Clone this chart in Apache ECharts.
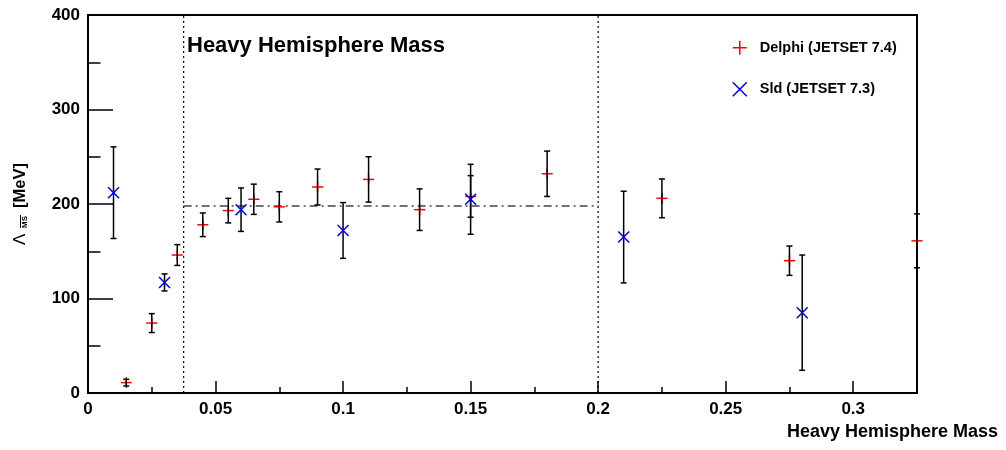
<!DOCTYPE html>
<html>
<head>
<meta charset="utf-8">
<script src="https://cdn.jsdelivr.net/npm/echarts@6/dist/echarts.min.js"></script>
<style>html,body{margin:0;padding:0;background:#fff}#c{width:1006px;height:450px}</style>
</head>
<body>
<div id="c"></div>
<script>
// Delphi (JETSET 7.4)
const delphiX = [0.015, 0.025, 0.035, 0.045, 0.055, 0.065, 0.075, 0.09, 0.11, 0.13, 0.15, 0.18, 0.225, 0.275, 0.325];
const delphiY = [11, 74, 146, 178, 193, 205, 197, 218, 226, 194, 208, 232, 206, 140, 161];
const delphiErr = [3.5, 10, 11, 12.5, 13, 16, 16, 19, 24, 22, 22, 24, 20.5, 15.5, 28.5];
// Sld (JETSET 7.3)
const sldX = [0.01, 0.03, 0.06, 0.1, 0.15, 0.21, 0.28];
const sldY = [212, 117, 194, 172, 205, 165, 85];
const sldErr = [48.5, 9, 23, 29.5, 37, 48.5, 61];
// reference lines
const fitLevel = 198;
const fitRange = [0.0375, 0.2];
const cutLines = [0.0375, 0.2];
// ticks
const xMajorTicks = [0, 0.05, 0.1, 0.15, 0.2, 0.25, 0.3];
const xMinorTicks = [0.025, 0.075, 0.125, 0.175, 0.225, 0.275];

const FONT = 'Liberation Sans, Arial, sans-serif';

function toData(xs, ys, es) { return xs.map((x, i) => [x, ys[i], es[i]]); }

function makeRender(kind) {
  return function (params, api) {
    const x = api.value(0), y = api.value(1), e = api.value(2);
    const p = api.coord([x, y]);
    const t = api.coord([x, y + e]);
    const b = api.coord([x, y - e]);
    const cap = 3, m = 5.5;
    const barStyle = { stroke: '#000', lineWidth: 1.5 };
    const children = [];
    if (kind === 'plus') {
      const st = { stroke: '#ff0000', lineWidth: 1.5 };
      children.push({ type: 'line', shape: { x1: p[0] - m, y1: p[1], x2: p[0] + m, y2: p[1] }, style: st });
      children.push({ type: 'line', shape: { x1: p[0], y1: p[1] - m, x2: p[0], y2: p[1] + m }, style: st });
    }
    children.push({ type: 'line', shape: { x1: t[0], y1: t[1], x2: b[0], y2: b[1] }, style: barStyle });
    children.push({ type: 'line', shape: { x1: t[0] - cap, y1: t[1], x2: t[0] + cap, y2: t[1] }, style: barStyle });
    children.push({ type: 'line', shape: { x1: b[0] - cap, y1: b[1], x2: b[0] + cap, y2: b[1] }, style: barStyle });
    if (kind === 'cross') {
      const st = { stroke: '#0000ff', lineWidth: 1.5 };
      children.push({ type: 'line', shape: { x1: p[0] - m, y1: p[1] - m, x2: p[0] + m, y2: p[1] + m }, style: st });
      children.push({ type: 'line', shape: { x1: p[0] - m, y1: p[1] + m, x2: p[0] + m, y2: p[1] - m }, style: st });
    }
    return { type: 'group', children };
  };
}

const chart = echarts.init(document.getElementById('c'), null, { renderer: 'canvas' });
chart.setOption({
  animation: false,
  backgroundColor: '#fff',
  textStyle: { fontFamily: FONT },
  title: {
    text: 'Heavy Hemisphere Mass',
    left: 182, top: 30,
    textStyle: { fontFamily: FONT, fontWeight: 'bold', fontSize: 22, color: '#000' }
  },
  graphic: [{
    type: 'group', x: 20, y: 245, rotation: Math.PI / 2, silent: true,
    children: [
      { type: 'text', x: 0, y: 0, style: { text: 'Λ', font: '17px ' + FONT, fill: '#000', verticalAlign: 'middle', align: 'left' } },
      { type: 'text', x: 17, y: 4.5, style: { text: 'MS', font: 'bold 8px ' + FONT, fill: '#000', verticalAlign: 'middle', align: 'left' } },
      { type: 'line', shape: { x1: 17, y1: 0.5, x2: 30, y2: 0.5 }, style: { stroke: '#000', lineWidth: 1 } },
      { type: 'text', x: 37, y: 0, style: { text: '[MeV]', font: 'bold 16.5px ' + FONT, fill: '#000', verticalAlign: 'middle', align: 'left' } }
    ]
  }],
  grid: { left: 88, right: 89, top: 15, bottom: 57, show: true, borderColor: '#000', borderWidth: 2, backgroundColor: 'transparent' },
  xAxis: [{
    type: 'value', min: 0, max: 0.325, position: 'bottom',
    name: 'Heavy Hemisphere Mass', nameLocation: 'end',
    nameTextStyle: { fontFamily: FONT, fontWeight: 'bold', fontSize: 18, color: '#000', align: 'right', verticalAlign: 'top', padding: [30, 0, 0, 0] },
    nameGap: 81,
    axisLine: { show: true, onZero: false, lineStyle: { color: '#000', width: 2 } },
    axisTick: { show: true, inside: true, length: 12, customValues: xMajorTicks, lineStyle: { color: '#000', width: 1.5 } },
    splitLine: { show: false },
    axisLabel: { customValues: xMajorTicks, margin: 8, fontFamily: FONT, fontWeight: 'bold', fontSize: 17, color: '#000' }
  }, {
    type: 'value', min: 0, max: 0.325, position: 'bottom', offset: 0,
    axisLine: { show: false },
    axisTick: { show: true, inside: true, length: 6, customValues: xMinorTicks, lineStyle: { color: '#000', width: 1.5 } },
    axisLabel: { show: false },
    splitLine: { show: false }
  }],
  yAxis: {
    type: 'value', min: 0, max: 400, interval: 100,
    axisLine: { show: true, onZero: false, lineStyle: { color: '#000', width: 2 } },
    axisTick: { show: true, inside: true, length: 25, lineStyle: { color: '#000', width: 1.5 } },
    minorTick: { show: true, splitNumber: 2, length: 12.5, lineStyle: { color: '#000', width: 1.5 } },
    splitLine: { show: false },
    axisLabel: { margin: 8, fontFamily: FONT, fontWeight: 'bold', fontSize: 17, color: '#000' }
  },
  legend: {
    top: 35, left: 727, orient: 'vertical', itemGap: 26, itemWidth: 14, itemHeight: 14,
    textStyle: { fontFamily: FONT, fontWeight: 'bold', fontSize: 14.5, color: '#000', padding: [0, 0, 0, 8] },
    data: [
      { name: 'Delphi (JETSET 7.4)', icon: 'path://M0,5.5 L11,5.5 M5.5,0 L5.5,11', itemStyle: { color: 'transparent', borderColor: '#ff0000', borderWidth: 1.5 } },
      { name: 'Sld (JETSET 7.3)', icon: 'path://M0,0 L11,11 M0,11 L11,0', itemStyle: { color: 'transparent', borderColor: '#0000ff', borderWidth: 1.5 } }
    ]
  },
  series: [
    {
      type: 'line', name: 'cut1', data: [[cutLines[0], 0], [cutLines[0], 400]], symbol: 'none', silent: true,
      lineStyle: { color: '#000', width: 1.2, type: [2, 3] }, z: 1
    },
    {
      type: 'line', name: 'cut2', data: [[cutLines[1], 0], [cutLines[1], 400]], symbol: 'none', silent: true,
      lineStyle: { color: '#000', width: 1.2, type: [2, 3] }, z: 1
    },
    {
      type: 'line', name: 'fit', data: [[fitRange[0], fitLevel], [fitRange[1], fitLevel]], symbol: 'none', silent: true,
      lineStyle: { color: '#444', width: 1.5, type: [8, 4, 2, 4] }, z: 1
    },
    {
      type: 'custom', name: 'Delphi (JETSET 7.4)', data: toData(delphiX, delphiY, delphiErr),
      renderItem: makeRender('plus'), clip: false, z: 3,
      itemStyle: { color: '#ff0000', borderColor: '#ff0000' },
      encode: { x: 0, y: 1 }
    },
    {
      type: 'custom', name: 'Sld (JETSET 7.3)', data: toData(sldX, sldY, sldErr),
      renderItem: makeRender('cross'), clip: false, z: 4,
      itemStyle: { color: '#0000ff', borderColor: '#0000ff' },
      encode: { x: 0, y: 1 }
    }
  ]
});
</script>
</body>
</html>
